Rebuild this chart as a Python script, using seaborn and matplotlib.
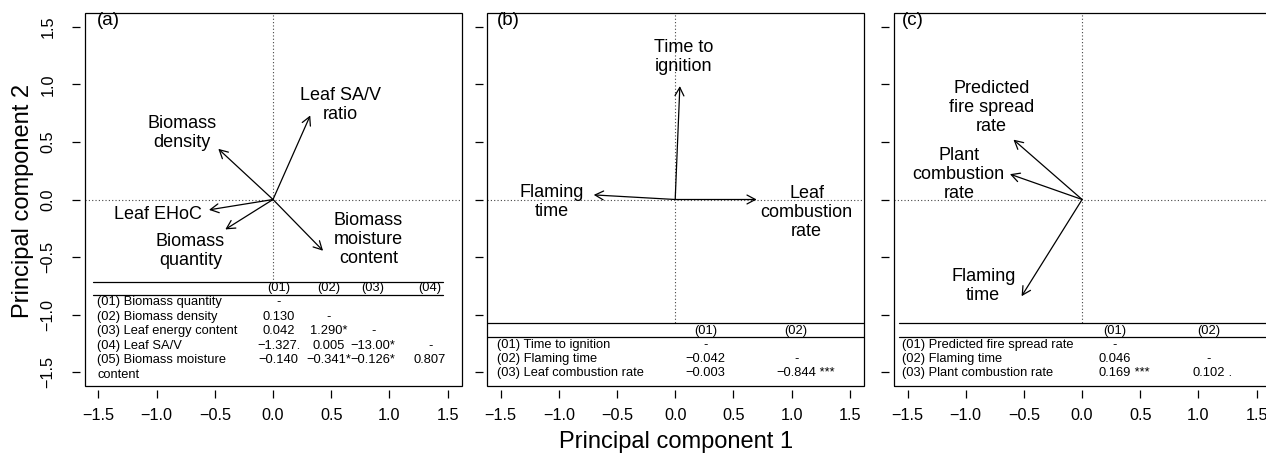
import numpy as np
import pandas as pd
import matplotlib
matplotlib.use('Agg')
import matplotlib.pyplot as plt
from matplotlib.patches import Rectangle
import seaborn as sns

# Loadings (arrow tips) for each PCA biplot
a_vars = ['Biomass\ndensity', 'Leaf SA/V\nratio', 'Leaf EHoC', 'Biomass\nquantity', 'Biomass\nmoisture\ncontent']
a_pc1 = [-0.47, 0.32, -0.55, -0.41, 0.43]
a_pc2 = [0.44, 0.73, -0.09, -0.26, -0.445]

b_vars = ['Time to\nignition', 'Flaming\ntime', 'Leaf\ncombustion\nrate']
b_pc1 = [0.04, -0.70, 0.70]
b_pc2 = [0.985, 0.04, 0.0]

c_vars = ['Predicted\nfire spread\nrate', 'Plant\ncombustion\nrate', 'Flaming\ntime']
c_pc1 = [-0.59, -0.62, -0.52]
c_pc2 = [0.52, 0.22, -0.84]

# Correlation tables under each biplot
a_rows = ['(01) Biomass quantity', '(02) Biomass density', '(03) Leaf energy content',
          '(04) Leaf SA/V', '(05) Biomass moisture\ncontent']
a_cols = ['(01)', '(02)', '(03)', '(04)']
a_cells = [['-', '', '', ''],
           ['0.130', '-', '', ''],
           ['0.042', '1.290*', '-', ''],
           ['\u22121.327.', '0.005', '\u221213.00*', '-'],
           ['\u22120.140', '\u22120.341*', '\u22120.126*', '0.807']]

b_rows = ['(01) Time to ignition', '(02) Flaming time', '(03) Leaf combustion rate']
b_cols = ['(01)', '(02)']
b_cells = [['-', ''],
           ['\u22120.042', '-'],
           ['\u22120.003', '\u22120.844 ***']]

c_rows = ['(01) Predicted fire spread rate', '(02) Flaming time', '(03) Plant combustion rate']
c_cols = ['(01)', '(02)']
c_cells = [['-', ''],
           ['0.046', '-'],
           ['0.169 ***', '0.102 .']]

ticks = [-1.5, -1.0, -0.5, 0.0, 0.5, 1.0, 1.5]

# layout: label positions and table geometry (data units)
panels = [
    dict(tag='(a)', vars=a_vars, pc1=a_pc1, pc2=a_pc2,
         lab_x=[-0.78, 0.58, -0.99, -0.71, 0.82], lab_y=[0.58, 0.82, -0.13, -0.445, -0.35],
         rows=a_rows, cols=a_cols, cells=a_cells,
         t_x0=-1.55, t_x1=1.46, t_top=-0.715, t_head=-0.77, t_line2=-0.83,
         t_row0=-0.894, t_step=0.126, lab_left=-1.51, col_x=[0.05, 0.48, 0.86, 1.35]),
    dict(tag='(b)', vars=b_vars, pc1=b_pc1, pc2=b_pc2,
         lab_x=[0.07, -1.06, 1.13], lab_y=[1.24, -0.02, -0.11],
         rows=b_rows, cols=b_cols, cells=b_cells,
         t_x0=-1.62, t_x1=1.62, t_top=-1.074, t_head=-1.14, t_line2=-1.196,
         t_row0=-1.265, t_step=0.122, lab_left=-1.53, col_x=[0.26, 1.04]),
    dict(tag='(c)', vars=c_vars, pc1=c_pc1, pc2=c_pc2,
         lab_x=[-0.78, -1.06, -0.85], lab_y=[0.80, 0.22, -0.75],
         rows=c_rows, cols=c_cols, cells=c_cells,
         t_x0=-1.57, t_x1=1.62, t_top=-1.074, t_head=-1.14, t_line2=-1.196,
         t_row0=-1.265, t_step=0.122, lab_left=-1.55, col_x=[0.28, 1.09]),
]

sns.set_theme(style='ticks', rc={'text.color': 'black', 'axes.labelcolor': 'black',
                                 'xtick.color': 'black', 'ytick.color': 'black',
                                 'axes.edgecolor': 'black'})
plt.rcParams['font.family'] = ['Liberation Sans', 'DejaVu Sans']
plt.rcParams['axes.unicode_minus'] = True

W, H = 1266, 457
fig = plt.figure(figsize=(W / 100, H / 100), dpi=100)
lefts = [84.5, 486.7, 893.6]
box_w, box_top, box_bot = 377, 13, 386

for i, p in enumerate(panels):
    ax = fig.add_axes([lefts[i] / W, 1 - box_bot / H, box_w / W, (box_bot - box_top) / H])
    ax.set_xlim(-1.62, 1.62)
    ax.set_ylim(-1.62, 1.62)
    ax.set_facecolor('white')

    # reference lines
    ax.axhline(0, color='#444444', lw=0.8, ls=(0, (1, 2)), zorder=1)
    ax.axvline(0, color='#444444', lw=0.8, ls=(0, (1, 2)), zorder=1)

    # loading arrows
    for name, x, y, lx, ly in zip(p['vars'], p['pc1'], p['pc2'], p['lab_x'], p['lab_y']):
        ax.annotate('', xy=(x, y), xytext=(0, 0),
                    arrowprops=dict(arrowstyle='->,head_length=0.6,head_width=0.32',
                                    lw=0.9, color='black', shrinkA=0, shrinkB=0,
                                    mutation_scale=10), zorder=4)
        ax.text(lx, ly, name, ha='center', va='center', fontsize=13, color='black',
                linespacing=1.15, zorder=5)

    ax.text(p['lab_left'], 1.555, p['tag'], ha='left', va='center', fontsize=13.5, color='black')

    # table with white background
    ax.add_patch(Rectangle((-1.62, -1.62), 3.24, p['t_top'] + 1.62, facecolor='white',
                           edgecolor='none', zorder=2))
    ax.plot([p['t_x0'], p['t_x1']], [p['t_top']] * 2, color='black', lw=0.9, zorder=3)
    ax.plot([p['t_x0'], p['t_x1']], [p['t_line2']] * 2, color='black', lw=0.9, zorder=3)
    fs = 9.3
    for cx, head in zip(p['col_x'], p['cols']):
        ax.text(cx, p['t_head'], head, ha='center', va='center', fontsize=fs,
                color='black', zorder=3)
    r = 0
    for lab, vals in zip(p['rows'], p['cells']):
        parts = lab.split('\n')
        for k, part in enumerate(parts):
            ax.text(p['lab_left'], p['t_row0'] - (r + k) * p['t_step'], part,
                    ha='left', va='center', fontsize=fs, color='black', zorder=3)
        yv = p['t_row0'] - r * p['t_step']
        for cx, v in zip(p['col_x'], vals):
            if not v:
                continue
            num, _, suffix = v.partition(' ')
            t = ax.text(cx, yv, num, ha='center', va='center', fontsize=fs,
                        color='black', zorder=3)
            if suffix:
                ax.annotate(' ' + suffix, xy=(1, 0), xycoords=t, ha='left', va='bottom',
                            fontsize=fs, color='black', zorder=3)
        r += len(parts)

    # R-like box with ticks offset from it
    for s in ax.spines.values():
        s.set_visible(False)
    ax.spines['bottom'].set_position(('outward', 3))
    ax.spines['left'].set_position(('outward', 3))
    ax.add_patch(Rectangle((0, 0), 1, 1, transform=ax.transAxes, fill=False,
                           edgecolor='black', lw=0.9, clip_on=False, zorder=6))
    ax.set_xticks(ticks)
    ax.set_yticks(ticks)
    ax.tick_params(axis='both', direction='out', length=6, width=0.9, color='black',
                   labelsize=11.7, labelcolor='black')
    ax.tick_params(axis='x', pad=7)
    ax.tick_params(axis='y', pad=12)
    if i == 0:
        for lbl in ax.get_yticklabels():
            lbl.set_rotation(90)
            lbl.set_va('center')
    else:
        ax.tick_params(labelleft=False)
    ax.set_xlabel('')
    ax.set_ylabel('')
    ax.grid(False)

fig.text(676 / W, 1 - 442 / H, 'Principal component 1', ha='center', va='center',
         fontsize=17, color='black')
fig.text(23 / W, 1 - 201 / H, 'Principal component 2', ha='center', va='center',
         rotation=90, fontsize=17, color='black')

fig.savefig('out.png', dpi=100, facecolor='white')
